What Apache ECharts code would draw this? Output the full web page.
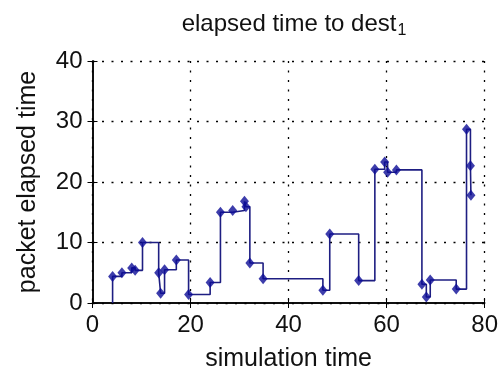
<!DOCTYPE html>
<html>
<head>
<meta charset="utf-8">
<script src="https://cdn.jsdelivr.net/npm/echarts@6/dist/echarts.min.js"></script>
<style>
  html, body { margin: 0; padding: 0; background: #fff; }
  #chart { width: 501px; height: 377px; }
</style>
</head>
<body>
<div id="chart"></div>
<script>
// packet arrivals
const simTime = [4.1, 6.0, 8.0, 8.7, 10.2, 13.5, 13.9, 14.7, 17.1, 19.6, 24.0, 26.1, 28.6, 31.0, 31.3, 32.1, 34.8, 47.0, 48.4, 54.3, 57.6, 59.6, 60.2, 62.0, 67.2, 68.1, 68.9, 74.2, 76.3, 77.1, 77.2];
const elapsed = [4.4, 5.0, 5.8, 5.4, 10.0, 5.0, 1.6, 5.5, 7.1, 1.4, 3.4, 15.0, 15.3, 16.8, 15.9, 6.6, 4.0, 2.1, 11.4, 3.7, 22.1, 23.3, 21.6, 22.0, 3.1, 1.0, 3.8, 2.3, 28.7, 22.7, 17.8];
// stairs start from zero before the first packet
const startPoint = [4.1, 0];

const xTicks = [0, 20, 40, 60, 80];
const yTicks = [0, 10, 20, 30, 40];

const FONT = 'Liberation Sans';
const INK = '#1e1e82';

const points = simTime.map((t, i) => [t, elapsed[i]]);

const chart = echarts.init(document.getElementById('chart'));

const gridDots = { show: true, lineStyle: { color: '#000', width: 1.3, type: [2, 7.5] } };

chart.setOption({
  animation: false,
  backgroundColor: '#fff',
  title: {
    text: 'elapsed time to dest{sub|1}',
    left: 289,
    textAlign: 'center',
    top: 4,
    textStyle: {
      fontFamily: FONT,
      fontSize: 24,
      fontWeight: 'normal',
      color: '#111',
      rich: {
        sub: { fontFamily: FONT, fontSize: 16, color: '#111', padding: [14, 0, 0, 1] }
      }
    }
  },
  grid: { left: 92.5, right: 16, top: 61, bottom: 71 },
  xAxis: [{
    type: 'value',
    min: xTicks[0],
    max: xTicks[xTicks.length - 1],
    interval: 20,
    name: 'simulation time',
    nameLocation: 'middle',
    nameGap: 44,
    nameTextStyle: { fontFamily: FONT, fontSize: 25, color: '#111' },
    axisLine: { show: true, onZero: false, lineStyle: { color: '#000', width: 1.5 } },
    axisTick: { show: true, inside: true, length: 5, lineStyle: { color: '#000' } },
    axisLabel: { fontFamily: FONT, fontSize: 24, color: '#111', margin: 10 },
    splitLine: gridDots
  }, {
    type: 'value',
    position: 'top',
    min: xTicks[0],
    max: xTicks[xTicks.length - 1],
    interval: 20,
    axisLine: { show: true, lineStyle: { color: '#000', width: 1.5 } },
    axisTick: { show: true, inside: true, length: 5, lineStyle: { color: '#000' } },
    axisLabel: { show: false },
    splitLine: { show: false }
  }],
  yAxis: [{
    type: 'value',
    min: yTicks[0],
    max: yTicks[yTicks.length - 1],
    interval: 10,
    name: 'packet elapsed time',
    nameLocation: 'middle',
    nameGap: 52,
    nameTextStyle: { fontFamily: FONT, fontSize: 25, color: '#111' },
    axisLine: { show: true, onZero: false, lineStyle: { color: '#000', width: 1.5 } },
    axisTick: { show: true, inside: true, length: 5, lineStyle: { color: '#000' } },
    axisLabel: { fontFamily: FONT, fontSize: 24, color: '#111', margin: 10 },
    splitLine: gridDots
  }, {
    type: 'value',
    position: 'right',
    min: yTicks[0],
    max: yTicks[yTicks.length - 1],
    interval: 10,
    axisLine: { show: true, lineStyle: { color: '#000', width: 1.5 } },
    axisTick: { show: true, inside: true, length: 5, lineStyle: { color: '#000' } },
    axisLabel: { show: false },
    splitLine: { show: false }
  }],
  series: [{
    name: 'stairs',
    type: 'line',
    step: 'end',
    data: [startPoint].concat(points),
    showSymbol: false,
    lineStyle: { color: INK, width: 1.6 },
    z: 3
  }, {
    name: 'packets',
    type: 'scatter',
    data: points,
    symbol: 'diamond',
    symbolSize: [9, 11],
    itemStyle: { color: '#0c0c96' },
    z: 4
  }]
});
</script>
</body>
</html>
